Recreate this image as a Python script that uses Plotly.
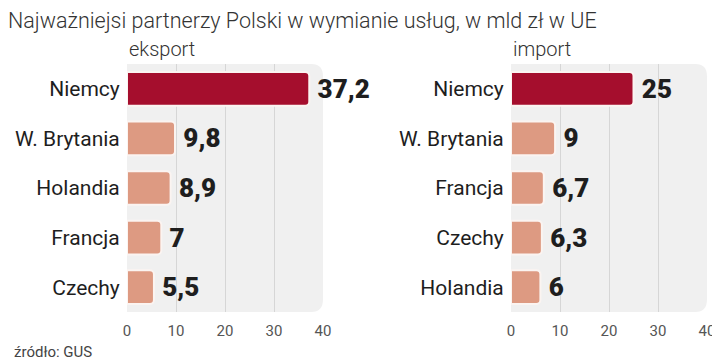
import plotly.graph_objects as go

title_text = "Najważniejsi partnerzy Polski w wymianie usług, w mld zł w UE"
source_text = "źródło: GUS"

export_label = "eksport"
export_countries = ["Niemcy", "W. Brytania", "Holandia", "Francja", "Czechy"]
export_values = [37.2, 9.8, 8.9, 7.0, 5.5]

import_label = "import"
import_countries = ["Niemcy", "W. Brytania", "Francja", "Czechy", "Holandia"]
import_values = [25.0, 9.0, 6.7, 6.3, 6.0]

x_ticks = [0, 10, 20, 30, 40]

DARK = "#a50e2d"
LIGHT = "#dd9a82"
BG = "#f0f0f0"
TXT = "#1e1e1e"
FONT = "Roboto"
NUMFONT = "Roboto"

# The page body adds an 8px offset, so the figure is 8px smaller than the window.
W, H = 712, 355


def fmt(v):
    s = f"{v:.1f}".rstrip("0").rstrip(".")
    return "\u2009" + s.replace(".", ",")


def colors(cats):
    return [DARK if c == "Niemcy" else LIGHT for c in cats]


fig = go.Figure()
for i, (cats, vals) in enumerate([(export_countries, export_values), (import_countries, import_values)]):
    sfx = "" if i == 0 else "2"
    fig.add_trace(go.Bar(
        x=vals, y=cats, orientation="h",
        xaxis="x" + sfx, yaxis="y" + sfx,
        marker=dict(color=colors(cats), line=dict(color="#fbf4f1", width=2), cornerradius=4),
        text=[fmt(v) for v in vals], textposition="outside",
        textfont=dict(family=NUMFONT, size=26, color=TXT, weight=900),
        cliponaxis=False, showlegend=False, hoverinfo="skip",
    ))

xcommon = dict(range=[0, 40], tickvals=x_ticks, showgrid=True, gridcolor="#d6d6d6", gridwidth=1,
               zeroline=False, showline=False, ticks="outside", ticklen=5, tickcolor="rgba(0,0,0,0)",
               fixedrange=True, automargin=False,
               tickfont=dict(family=FONT, size=15, color="#555"))
ycommon = dict(autorange="reversed", showgrid=False, zeroline=False, showline=False,
               ticks="outside", ticklen=2, tickcolor="rgba(0,0,0,0)", automargin=False,
               tickfont=dict(family=FONT, size=21, color=TXT))

fig.update_layout(
    width=W, height=H,
    margin=dict(l=0, r=0, t=56, b=51),
    paper_bgcolor="white", plot_bgcolor="rgba(0,0,0,0)",
    bargap=0.32,
    xaxis=dict(domain=[119 / W, 315 / W], anchor="y", **xcommon),
    yaxis=dict(domain=[0, 1], anchor="x", **ycommon),
    xaxis2=dict(domain=[503 / W, 699 / W], anchor="y2", **xcommon),
    yaxis2=dict(domain=[0, 1], anchor="x2", **ycommon),
    title=dict(text=title_text, x=0, xanchor="left", y=1 - 12 / H, yanchor="middle",
               automargin=False,
               font=dict(family=FONT, size=21.5, color="#333", weight=300)),
)

rx, ry = 0.06, 0.05
path = (f"M 0,0 L {1-rx},0 Q 1,0 1,{ry} L 1,{1-ry} Q 1,1 {1-rx},1 L 0,1 Z")
for sfx in ["", "2"]:
    fig.add_shape(type="path", path=path, xref=f"x{sfx} domain", yref=f"y{sfx} domain",
                  fillcolor=BG, line=dict(width=0), layer="below")

for sfx, lab in [("", export_label), ("2", import_label)]:
    fig.add_annotation(text=lab, xref=f"x{sfx} domain", yref=f"y{sfx} domain", x=0, y=1,
                       xanchor="left", yanchor="bottom", yshift=1, showarrow=False,
                       font=dict(family=FONT, size=20, color="#333", weight=300))

fig.add_annotation(text=source_text, xref="paper", yref="paper", x=4 / W, y=0, yshift=-40,
                   xanchor="left", yanchor="middle", showarrow=False,
                   font=dict(family=FONT, size=15, color="#444"))

fig.write_html("out.html")
